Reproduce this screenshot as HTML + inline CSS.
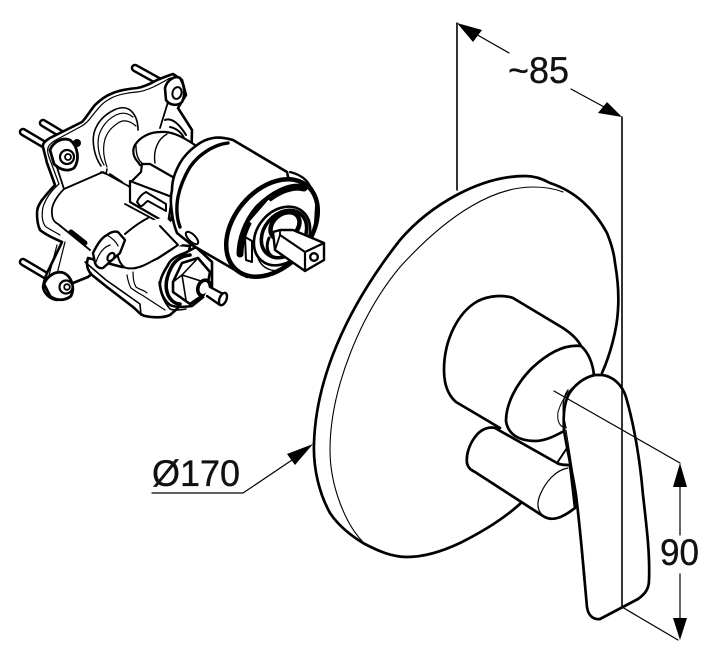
<!DOCTYPE html>
<html><head><meta charset="utf-8"><style>
html,body{margin:0;padding:0;background:#fff}
svg{display:block}
text{font-family:"Liberation Sans",sans-serif;font-size:37px;fill:#111;stroke:#111;stroke-width:.35}
</style></head><body>
<svg width="720" height="666" viewBox="0 0 720 666" xmlns="http://www.w3.org/2000/svg">
<rect width="720" height="666" fill="#fff"/>
<g fill="none" stroke="#000" stroke-linecap="round" stroke-linejoin="round">
<path d="M457 23V190M622 117V607" stroke-width="1.6"/>
<!-- disc -->
<path stroke-width="2.7" d="M314 443C316 380 345 310 400 240C430 205 480 176 525 176C535 176 543 179 550 183C562 187 573 193 583 202C593 211 601 222 607 233C611 243 614 252 615 263C618 280 619 295 618 310C617 330 610 355 602 373"/>
<path stroke-width="2.7" d="M314 443C313 470 320 495 330 513C338 525 350 535 363 543C378 551 392 557 407 557C425 557 443 551 460 543C480 533 503 520 522 502"/>
<path stroke-width="1.1" d="M563 192C553 188 543 187 533 187C495 187 450 212 400 267C360 315 330 390 330 450C330 485 345 525 365 544"/>
<!-- boss -->
<path stroke-width="2.7" fill="#fff" d="M513 298C505 295 490 295 478 301C458 312 444 340 444 370C444 385 448 395 456 402L500 428"/>
<path stroke-width="2.7" d="M513 298L563 328C572 334 578 340 581 346C588 352 593 363 594 376"/>
<path stroke-width="2.7" fill="#fff" d="M581 346C565 344 548 353 532 368C515 385 506 405 506 421C508 435 520 441 535 441C545 441 555 436 564 431"/>
<!-- lower lever -->
<path stroke-width="2.7" fill="#fff" d="M495 428C488 426 480 430 475 437C469 445 466 455 467 463C468 468 471 470 475 472L543 516C552 522 562 518 575 508L570 465C565 465 560 465 557 463Z"/>
<path stroke-width="1.2" d="M568 468C555 470 545 483 540 495C536 505 538 513 546 518"/>
<path stroke-width="2" d="M557 463L567 448"/>
<!-- handle -->
<path stroke-width="2.7" fill="#fff" d="M595 375C585 377 575 384 569 394C564 403 563 415 564 430C568 455 573 475 576 495C581 535 584 575 587 607C588 615 593 620 600 619L638 599C645 594 649 589 649 580C650 555 647 530 643 495C640 460 634 425 626 397C622 384 612 376 602 375Z"/>
<path stroke-width="1" d="M566 430C571 460 576 490 579 520C582 560 584 590 588 610"/>
<path stroke-width="1" d="M572 388C566 394 561 402 558 412C557 420 559 425 563 427"/>
<path stroke-width="1.4" d="M568 390C562 398 562 412 566 428"/>
<!-- dims -->
<path stroke-width="1.6" d="M622 390V607"/>
<path stroke-width="1.2" d="M554 391L680 463M622 607L678 640M680 487V535M680 574V620M474 33L509 53M571 89L606 108M152 493H243L295 458"/>
</g>
<g fill="#000">
<polygon points="457,23 482,30 473,42"/>
<polygon points="622,117 607,102 598,113"/>
<polygon points="680,463 673,487 687,487"/>
<polygon points="680,640 673,618 687,618"/>
<polygon points="313,444 287,454 295,465"/>
</g>
<text x="508" y="83" textLength="61" lengthAdjust="spacingAndGlyphs">~85</text>
<text x="152" y="486" textLength="88" lengthAdjust="spacingAndGlyphs">Ø170</text>
<text x="660" y="565" textLength="39" lengthAdjust="spacingAndGlyphs">90</text>

<!-- VALVE -->
<g fill="none" stroke="#000" stroke-linecap="round" stroke-linejoin="round" stroke-width="2">
<!-- studs -->
<g stroke-width="8.5"><path d="M135 68L162 83M23 132L50 148M43 123L68 138M23 262L50 278"/></g>
<g stroke="#fff" stroke-width="3.6"><path d="M135 68L162 83M23 132L50 148M43 123L68 138M23 262L50 278"/></g>
<!-- plate -->
<path fill="#fff" stroke-width="2.6" d="M173 74C167 76 162 78 157 80C150 84 144 87 137 88C128 89 120 90 113 93C105 96 100 100 95 105C90 111 86 118 82 122L50 138C45 141 42 144 43 147L47 163L55 185C50 190 46 195 42 200C38 206 37 209 37 213C37 221 38 226 40 230C46 235 55 239 62 242L50 267C46 274 44 281 43 287C44 294 50 299 57 300C63 299 68 291 73 283L88 277L132 240L190 210L192 130L178 108L186 95L182 80Z"/>
<path stroke-width="1.2" d="M170 78C158 85 147 91 137 92C125 93 115 95 108 100C102 103 97 110 92 116C88 122 84 125 80 127L54 141C48 145 46 149 49 157L59 184C52 190 46 198 43 207C41 217 43 224 46 227L60 235"/>
<path stroke-width="1.2" d="M57 245L47 283M65 242L53 290"/>
<path stroke-width="1.8" d="M64 189L103 172L130 187M64 189C55 198 51 207 52 213C52 219 54 222 58 224L90 250M52 152L64 189"/>
<path stroke-width="1.6" d="M101 172L106 174L107 169"/>
<!-- arch -->
<path stroke-width="1.6" d="M101 166C94 156 92 142 94 133C97 122 104 115 114 110C120 107 126 107 130 110C135 114 138 120 138 130"/>
<path stroke-width="1.2" d="M104 165C98 155 97 143 99 135C102 126 108 119 116 115C122 112 128 113 133 117"/>
<path stroke-width="1.2" d="M107 167C103 156 103 146 105 139C108 131 112 127 118 123C124 119 130 121 136 126"/>
<!-- top ear lines -->
<path stroke-width="1.8" d="M168 102L160 128"/>
<path stroke-width="2" d="M170 127C176 128 182 133 184 138M165 120C172 117 180 125 186 135"/>
<!-- pipe -->
<path fill="#fff" stroke-width="2.2" d="M138 162C133 157 132 150 135 145C140 137 150 132 160 132C170 131 180 135 195 145L190 185L140 165Z"/>
<path stroke-width="1.4" d="M167 134C158 139 153 150 155 163M136 146C136 154 138 160 142 163"/>
<!-- clip -->
<path fill="#fff" stroke-width="2.2" d="M130 183L141 172L142 164L150 164L178 180L172 214L130 188Z"/>
<path fill="#fff" stroke-width="2.2" d="M130 181L130 202L168 224L172 197Z"/>
<path fill="#fff" stroke-width="2" d="M137 202C139 197 142 194 146 192L166 204L166 211L148 201C146 201 143 207 140 206Z"/>
<path stroke-width="1.8" d="M125 204L170 228L165 248M122 182L110 174M172 214L163 248"/>
<!-- lower housing -->
<path fill="#fff" stroke-width="2.6" d="M88 258C86 264 87 270 92 275L107 287L133 307C138 311 140 315 145 316C155 318 163 318 170 315L178 308L190 246L178 245L158 258L135 268L122 267Z"/>
<path stroke-width="1.2" d="M127 275C128 281 129 285 131 288C135 291 138 293 142 295L165 310M133 272C133 279 134 284 136 287C140 290 144 290 147 293"/>
<path stroke-width="1.6" d="M85 262L106 280L140 304L141 315"/>
<!-- bulb -->
<path fill="#fff" stroke="none" d="M124 234C130 228 137 224 143 223L165 217L190 240L158 258C150 262 143 267 135 268C129 269 124 268 122 265C118 260 117 254 118 250Z"/>
<path stroke-width="2" d="M125 234C132 228 140 222 148 218M160 226L178 245L158 258C150 262 143 267 135 268C129 269 124 268 122 265C118 260 117 254 118 250"/>
<!-- ear -->
<path fill="#fff" stroke-width="2.4" d="M93 253C97 245 101 238 107 235C111 232 115 231 118 232L125 240L120 253L103 268C99 269 96 266 95 263Z"/>
<path stroke-width="1.2" d="M107 235C112 238 116 241 118 246M96 262C99 253 104 247 110 245"/>
<ellipse cx="111" cy="257" rx="3" ry="4.5" transform="rotate(35 111 257)" stroke-width="2.2"/>
<!-- bolts -->
<g fill="#fff">
<path stroke-width="2.6" d="M165 88C167 80 175 75 180 78C184 84 186 94 182 102C178 106 170 106 166 100Z"/>
<ellipse cx="177" cy="93" rx="4.5" ry="6" transform="rotate(15 177 93)" stroke-width="2"/>
<path stroke-width="2.8" d="M50 150C53 142 62 137 70 140C78 146 80 160 74 168C68 172 60 170 54 164Z"/>
<circle cx="67" cy="157" r="7" stroke-width="2.2"/>
<circle cx="68" cy="157" r="3" stroke-width="1.8"/>
<path stroke-width="2.8" d="M44 284C47 276 56 270 64 273C72 277 75 288 71 296C65 301 56 301 50 296Z"/>
<circle cx="66" cy="287" r="6.5" stroke-width="2.2"/>
<circle cx="67" cy="287" r="2.8" stroke-width="1.8"/>
</g>
<circle cx="77" cy="143" r="4" fill="#000" stroke="none"/>
<path stroke-width="5" d="M71 232L85 243"/>
<!-- nut -->
<path fill="#fff" stroke-width="2.6" d="M185 253C176 256 170 260 168 265C163 273 160 279 160 285C161 294 165 301 170 305C176 308 185 307 192 306L212 290L212 262L196 247Z"/>
<path stroke-width="3.6" d="M190 255C180 256 174 262 171 268C167 276 165 285 167 292C169 299 174 304 180 304"/>
<path stroke-width="1.6" d="M159 282C160 293 164 302 170 309C175 311 181 310 186 309"/>
<path fill="#fff" stroke-width="2.6" d="M173 282L182 263L198 258L210 272L206 293L190 304L173 292Z"/>
<path stroke-width="1.6" d="M182 275L198 258M182 275L173 282M182 275L204 282M182 275L186 300"/>
<ellipse cx="204" cy="288" rx="6" ry="8" transform="rotate(20 204 288)" fill="#fff" stroke-width="3.6"/>
<path fill="#fff" stroke="none" d="M209 286L225 294L220 305L204 297Z"/>
<path stroke-width="2.4" d="M210 287L225 295M207 296L220 305"/>
<ellipse cx="223" cy="299" rx="3.5" ry="6.5" transform="rotate(22 223 299)" fill="#fff" stroke-width="2.4"/>
<!-- cartridge body -->
<path fill="#fff" stroke-width="2.6" d="M233 140C226 138 218 137 213 138C207 139 201 142 197 145C190 150 184 156 180 163C175 172 172 180 172 190C170 198 171 206 172 213C173 222 175 228 177 233L192 245L247 277L300 230L287 172Z"/>
<path stroke-width="3.4" d="M228 143C220 144 216 146 210 149C200 155 195 160 190 167C184 177 180 187 178 197C176 208 177 219 180 227"/>
<ellipse cx="192" cy="238" rx="3.5" ry="8" transform="rotate(-45 192 238)" fill="#fff" stroke-width="2"/>
<!-- end face -->
<ellipse cx="272" cy="228" rx="55" ry="38" transform="rotate(-50 272 228)" fill="#fff" stroke-width="4.5"/>
<path stroke-width="2.2" d="M290 172C298 174 306 178 310 186C315 192 317 200 316 208L315 225"/>
<path stroke-width="7" d="M304 188C290 184 272 194 258 208C246 222 240 240 240 254"/>
<path stroke="#fff" stroke-width="4" stroke-linecap="butt" d="M251 223L270 201"/>
<path fill="#fff" stroke-width="2" d="M245 237L252 241L252 262L246 260Z"/>
<ellipse cx="282" cy="236" rx="32" ry="25" transform="rotate(-50 282 236)" fill="#fff" stroke-width="2.6"/>
<ellipse cx="284" cy="234" rx="26" ry="20" transform="rotate(-50 284 234)" stroke-width="3.6"/>
<ellipse cx="285" cy="226" rx="16" ry="12" transform="rotate(-40 285 226)" stroke-width="4.5"/>
<path stroke-width="3" d="M269 238C265 248 268 256 276 258"/>
<path stroke-width="1.4" d="M258 258C262 270 278 276 292 264"/>
<!-- shaft -->
<path fill="#fff" stroke-width="2.4" d="M273 232L280 230L293 230L324 243V260L305 271L275 250Z"/>
<path stroke-width="2.2" d="M280 235L305 252V271M305 252L324 243"/>
<circle cx="314" cy="257" r="3.8" stroke-width="2.4"/>
<path stroke-width="1.8" d="M275 250L280 235L280 230"/>
</g>
</svg>
</body></html>
